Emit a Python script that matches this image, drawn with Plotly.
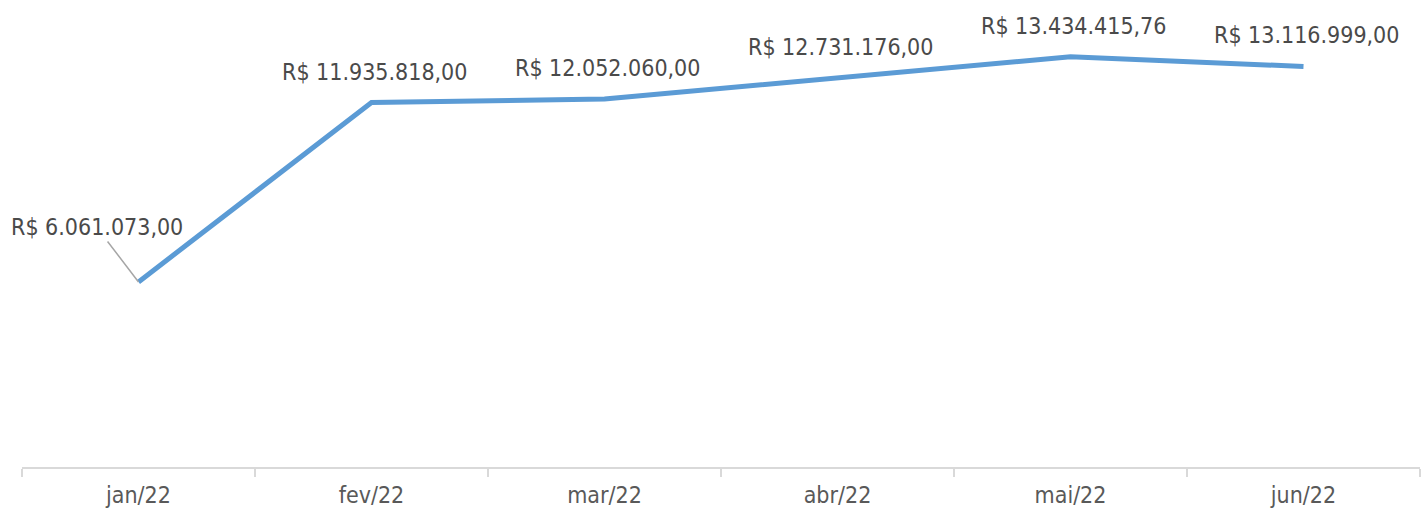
import plotly.graph_objects as go

months = ["jan/22", "fev/22", "mar/22", "abr/22", "mai/22", "jun/22"]
values = [6061073.00, 11935818.00, 12052060.00, 12731176.00, 13434415.76, 13116999.00]
labels = ["R$ 6.061.073,00", "R$ 11.935.818,00", "R$ 12.052.060,00",
          "R$ 12.731.176,00", "R$ 13.434.415,76", "R$ 13.116.999,00"]

FONT = "'DejaVu Sans Condensed', 'DejaVu Sans', sans-serif"

fig = go.Figure()
fig.add_trace(go.Scatter(
    x=months, y=values, mode="lines",
    line=dict(color="#5B9BD5", width=5, shape="linear"),
    hoverinfo="skip",
))

annotations = []
for i, (m, v, t) in enumerate(zip(months, values, labels)):
    if i == 0:
        annotations.append(dict(
            x=m, y=v, xref="x", yref="y", text=t, showarrow=True,
            arrowhead=0, arrowwidth=1.5, arrowcolor="#A6A6A6",
            ax=-42, ay=-55, standoff=0,
            font=dict(family=FONT, size=23, color="#4A4A4A"),
        ))
    else:
        annotations.append(dict(
            x=m, y=v, xref="x", yref="y", text=t, showarrow=False,
            yshift=31, xshift=3,
            font=dict(family=FONT, size=23, color="#4A4A4A"),
        ))

fig.update_layout(
    width=1426, height=511,
    margin=dict(l=22, r=6, t=9, b=44, autoexpand=False),
    paper_bgcolor="white", plot_bgcolor="white",
    showlegend=False,
    annotations=annotations,
    xaxis=dict(
        type="category", range=[-0.5, 5.5], automargin=False,
        showline=True, linecolor="#D9D9D9", linewidth=2,
        ticks="outside", tickson="boundaries", ticklen=8, tickcolor="#D9D9D9", tickwidth=2,
        ticklabelstandoff=6,
        showgrid=False, zeroline=False,
        tickfont=dict(family=FONT, size=23, color="#595959"),
    ),
    yaxis=dict(range=[0, 15000000], visible=False, showgrid=False, zeroline=False,
               automargin=False),
)

fig.write_html("out.html")
